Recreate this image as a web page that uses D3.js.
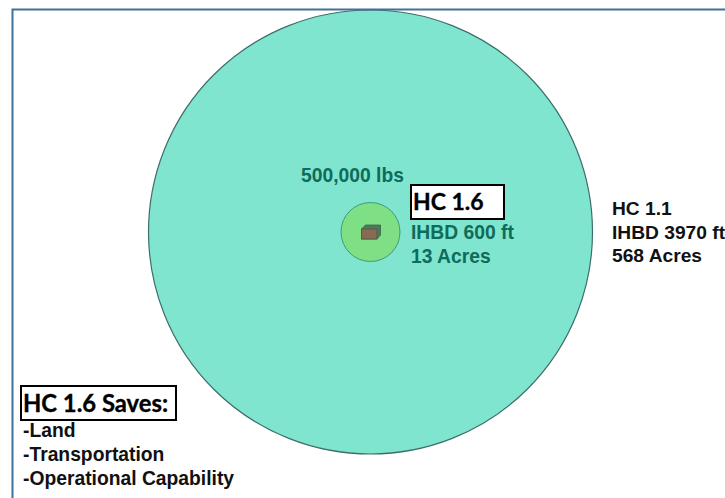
<!DOCTYPE html>
<html>
<head>
<meta charset="utf-8">
<style>
html,body{margin:0;padding:0;background:#fff;overflow:hidden}
svg{display:block}
text{font-family:"Liberation Sans",Arial,sans-serif;font-weight:bold}
text.boxed{font-family:Lato,"Open Sans",sans-serif;font-weight:bold;stroke:#000;stroke-width:0.35}
</style>
<script src="https://cdn.jsdelivr.net/npm/d3@7"></script>
</head>
<body>
<script>
// Hazard distances (ft) for the two hazard classes, with their safety arcs
const hazardClasses = ["HC 1.1", "HC 1.6"];
const ihbdFeet = [3970, 600];
const acres = [568, 13];
const arcFills = ["#80e5cf", "#7fdf85"];
const arcStrokes = ["#3d6f6a", "#2c8a66"];

const netWeightLabel = "500,000 lbs";
const savesTitle = "HC 1.6 Saves:";
const savesItems = ["-Land", "-Transportation", "-Operational Capability"];

const width = 725, height = 498;
const cx = 370.5, cy = 232;

const svg = d3.select("body").append("svg")
  .attr("width", width).attr("height", height);

// Radius follows the IHBD distance
const radius = d3.scaleLinear().domain([600, 3970]).range([29.5, 222]);

svg.selectAll("circle.arc")
  .data(ihbdFeet)
  .join("circle")
  .attr("class", "arc")
  .attr("cx", cx).attr("cy", cy)
  .attr("r", d => radius(d))
  .attr("fill", (d, i) => arcFills[i])
  .attr("stroke", (d, i) => arcStrokes[i])
  .attr("stroke-width", (d, i) => i === 0 ? 1.2 : 0.8);

// Page frame sits above the arcs: top and left rules only are visible in the window
svg.append("path")
  .attr("d", d3.line()([[width, 9.5], [12.5, 9.5], [12.5, height]]))
  .attr("fill", "none").attr("stroke", "#41719c").attr("stroke-width", 2);

// Storage magazine block at the centre of the arcs
const block = svg.append("g").attr("transform", `translate(${cx},${cy})`);
block.append("path")
  .attr("d", "M-9,-3 L-5,-7 L10,-7 L10,3 L6.5,7 L-9,7 Z")
  .attr("fill", "#4d7a5c").attr("stroke", "#3c6048").attr("stroke-width", 0.8);
block.append("rect")
  .attr("x", -9).attr("y", -3).attr("width", 15.5).attr("height", 10)
  .attr("fill", "#8a6a50").attr("stroke", "#3c6048").attr("stroke-width", 0.8);

const fmt = d3.format(".0f");
const ihbdText = i => `IHBD ${fmt(ihbdFeet[i])} ft`;
const acreText = i => `${acres[i]} Acres`;

const teal = "#0f6b5a";

function label(x, y, str, size, fill) {
  return svg.append("text").attr("x", x).attr("y", y)
    .attr("font-size", size).attr("fill", fill).text(str);
}

label(301, 182, netWeightLabel, 19.3, teal);
label(411, 239, ihbdText(1), 19.3, teal);
label(411, 263, acreText(1), 19.3, teal);

label(612, 215, hazardClasses[0], 19.2, "#111");
label(612, 239, ihbdText(0), 19.2, "#111");
label(612, 262, acreText(0), 19.2, "#111");

// Boxed captions
function boxed(x, y, w, h, str, tx, ty, size) {
  svg.append("rect").attr("x", x).attr("y", y).attr("width", w).attr("height", h)
    .attr("fill", "#fff").attr("stroke", "#000").attr("stroke-width", 2);
  svg.append("text").attr("class", "boxed").attr("x", tx).attr("y", ty)
    .attr("font-size", size).attr("fill", "#000").text(str);
}
boxed(411, 185, 93, 34, hazardClasses[1], 413, 210, 23);
boxed(21, 386, 155, 34, savesTitle, 23, 412, 23.8);

svg.selectAll("text.saves")
  .data(savesItems)
  .join("text")
  .attr("class", "saves")
  .attr("x", 23)
  .attr("y", (d, i) => 437 + i * 24)
  .attr("font-size", 19.3)
  .attr("fill", "#111")
  .text(d => d);
</script>
</body>
</html>
